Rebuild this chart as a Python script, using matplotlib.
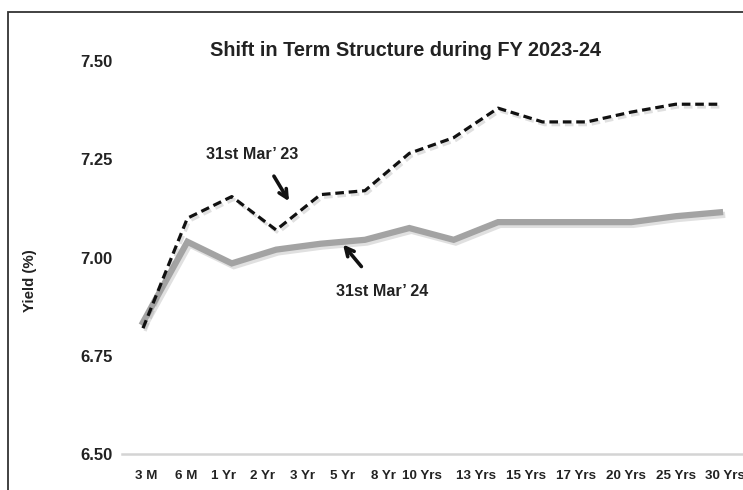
import numpy as np
import matplotlib
matplotlib.use('Agg')
import matplotlib.pyplot as plt
import matplotlib.patheffects as pe
from matplotlib.patches import Rectangle

tenors = ['3 M', '6 M', '1 Yr', '2 Yr', '3 Yr', '5 Yr', '8 Yr', '10 Yrs',
          '13 Yrs', '15 Yrs', '17 Yrs', '20 Yrs', '25 Yrs', '30 Yrs']
mar23 = [6.82, 7.10, 7.155, 7.07, 7.16, 7.17, 7.265, 7.305,
         7.38, 7.345, 7.345, 7.37, 7.39, 7.39]
mar24 = [6.835, 7.04, 6.985, 7.02, 7.035, 7.045, 7.075, 7.045,
         7.09, 7.09, 7.09, 7.09, 7.105, 7.115]
yticks = [6.50, 6.75, 7.00, 7.25, 7.50]

plt.rcParams['font.family'] = ['Liberation Sans', 'DejaVu Sans']

fig = plt.figure(figsize=(7.43, 4.9), dpi=100)
ax = fig.add_axes([122 / 743, 36 / 490, 621 / 743, 393 / 490])

x = np.arange(len(tenors))
shadow = [pe.SimpleLineShadow(offset=(1.5, -2), shadow_color='0.6', alpha=0.3), pe.Normal()]
ax.plot(x, mar24, color='#a3a3a3', lw=4.5, solid_joinstyle='miter',
        path_effects=shadow, zorder=3)
ax.plot(x, mar23, color='#111111', lw=2.3, dashes=(2.7, 1.5),
        path_effects=shadow, zorder=4)

ax.set_xlim(-0.473, 13.518)
ax.set_ylim(6.5, 7.5)

# labels in the source sit a bit off the points
px = [146, 186, 224, 263, 303, 343, 383, 422, 476, 526, 576, 626, 676, 725]
ax.set_xticks([(p - 143) / 44.38 for p in px])
ax.set_xticklabels(tenors, fontweight='bold', fontsize=9.6)
ax.set_yticks(yticks)
ax.set_yticklabels(['%.2f' % v for v in yticks], fontweight='bold', fontsize=12)
ax.tick_params(axis='both', length=0, colors='#222222')
ax.tick_params(axis='y', pad=6.8)
ax.tick_params(axis='x', pad=11.5)

for s in ['top', 'right', 'left']:
    ax.spines[s].set_visible(False)
ax.spines['bottom'].set_color('#d4d4d4')
ax.spines['bottom'].set_linewidth(1.8)

ax.set_ylabel('Yield (%)', fontweight='bold', fontsize=10.8, color='#222222')
ax.yaxis.set_label_coords(-0.137, 0.44)

fig.text(406 / 743, 1 - 51 / 490, 'Shift in Term Structure during FY 2023-24',
         ha='center', va='center', fontweight='bold', fontsize=14.3, color='#222222')

arrow = dict(arrowstyle='->', lw=2.6, color='#111111', mutation_scale=15,
             shrinkA=0, shrinkB=0)
ax.text(2.456, 7.263, '31st Mar\u2019 23', ha='center', va='center',
        fontweight='bold', fontsize=11.6, color='#222222')
ax.annotate('', xy=(3.29, 7.143), xytext=(2.95, 7.207), arrowprops=arrow)
ax.text(5.385, 6.913, '31st Mar\u2019 24', ha='center', va='center',
        fontweight='bold', fontsize=11.6, color='#222222')
ax.annotate('', xy=(4.507, 7.033), xytext=(4.92, 6.977), arrowprops=arrow)

fig.patches.append(Rectangle((8 / 743, -0.1), 1.2, 1.1 - 12 / 490, transform=fig.transFigure,
                             fill=False, lw=1.3, edgecolor='#333333'))

fig.savefig('out.png', dpi=100)
